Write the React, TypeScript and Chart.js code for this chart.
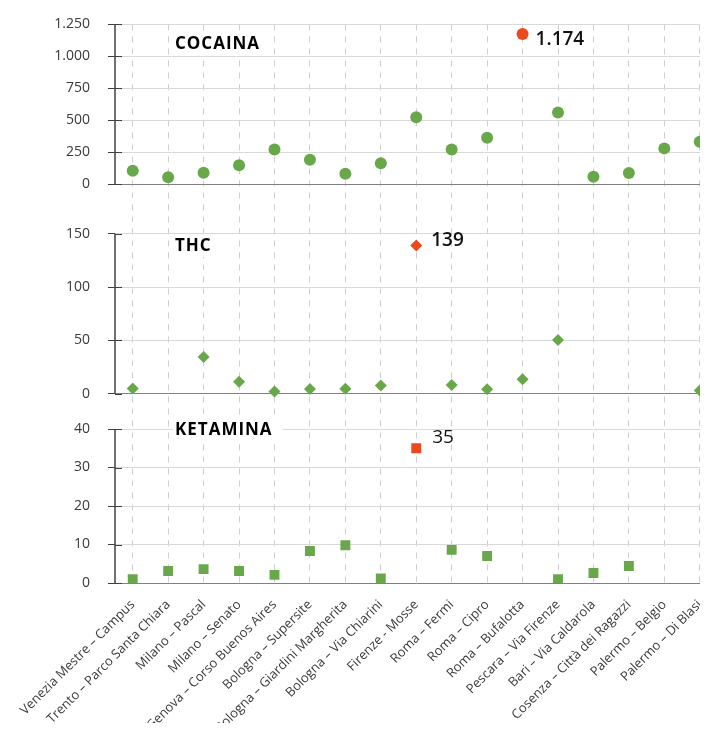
import React, { useEffect, useRef } from 'react';
import { Chart, registerables } from 'chart.js';

Chart.register(...registerables);

const categories = [
  'Venezia Mestre – Campus',
  'Trento – Parco Santa Chiara',
  'Milano – Pascal',
  'Milano – Senato',
  'Genova – Corso Buenos Aires',
  'Bologna – Supersite',
  'Bologna – Giardini Margherita',
  'Bologna – Via Chiarini',
  'Firenze - Mosse',
  'Roma – Fermi',
  'Roma – Cipro',
  'Roma – Bufalotta',
  'Pescara – Via Firenze',
  'Bari – Via Caldarola',
  'Cosenza – Città dei Ragazzi',
  'Palermo – Belgio',
  'Palermo – Di Blasi',
];

const cocaina = [104, 52, 88, 146, 271, 190, 80, 162, 523, 271, 362, 1174, 560, 57, 86, 279, 331];
const thc = [5, null, 34.4, 11.3, 2.2, 4.4, 4.7, 7.8, 139, 8.1, 4.1, 13.5, 50.3, null, null, null, 3.1];
const ketamina = [1.0, 3.1, 3.6, 3.1, 2.1, 8.3, 9.8, 1.2, 35, 8.6, 7.0, null, 1.0, 2.6, 4.4, null, null];

const cocainaTicks = [0, 250, 500, 750, 1000, 1250];
const thcTicks = [0, 50, 100, 150];
const ketaminaTicks = [0, 10, 20, 30, 40];

const panelTitles = ['COCAINA', 'THC', 'KETAMINA'];
const cocainaPeak = 11;
const thcPeak = 8;
const ketaminaPeak = 8;

const GREEN = '#68A84A';
const RED = '#EC4A1C';
const FONT = '"Open Sans", "Noto Sans", sans-serif';

function fmt(v: number): string {
  const n = Math.round(v);
  if (Math.abs(n) >= 1000) {
    return Math.floor(n / 1000) + '.' + String(n % 1000).padStart(3, '0');
  }
  return String(n);
}

function colors(values: (number | null)[], peak: number) {
  return values.map((_, i) => (i === peak ? RED : GREEN));
}

function yAxis(ticks: number[], min: number, max: number, weight: number) {
  return {
    type: 'linear',
    position: 'left',
    stack: 'panels',
    stackWeight: weight,
    min,
    max,
    afterBuildTicks: (s: any) => {
      s.ticks = ticks.map((v) => ({ value: v }));
    },
    afterFit: (s: any) => {
      s.width = 115;
    },
    grid: {
      color: (c: any) => (c.tick && c.tick.value === 0 ? '#808080' : '#d9d9d9'),
      lineWidth: 1,
      tickColor: '#404040',
      tickLength: 7,
    },
    border: { display: false },
    ticks: {
      font: { family: FONT, size: 14 },
      color: '#3a3a3a',
      padding: 18,
      callback: (v: any) => fmt(Number(v)),
    },
  };
}

const decorPlugin = {
  id: 'decor',
  afterDraw(chart: any) {
    const ctx = chart.ctx;
    const axes: [string, number[]][] = [
      ['yCoc', cocainaTicks],
      ['yThc', thcTicks],
      ['yKet', ketaminaTicks],
    ];
    ctx.save();
    for (const [id, ticks] of axes) {
      const s = chart.scales[id];
      const x = s.right;
      const top = s.getPixelForValue(ticks[ticks.length - 1]);
      const bot = s.getPixelForValue(0);
      ctx.strokeStyle = '#404040';
      ctx.lineWidth = 1.5;
      ctx.beginPath();
      ctx.moveTo(x, top);
      ctx.lineTo(x, bot);
      ctx.stroke();
      ctx.lineWidth = 1;
      ctx.beginPath();
      for (const t of ticks) {
        const y = Math.round(s.getPixelForValue(t)) + 0.5;
        ctx.moveTo(x, y);
        ctx.lineTo(x + 7, y);
      }
      ctx.stroke();
    }

    // panel titles
    const left = chart.chartArea.left + 60;
    const titleY = [
      chart.scales.yCoc.getPixelForValue(1250) + 20,
      chart.scales.yThc.getPixelForValue(150) + 12,
      chart.scales.yKet.getPixelForValue(40) + 1,
    ];
    ctx.font = `700 17px ${FONT}`;
    (ctx as any).letterSpacing = '1px';
    ctx.textBaseline = 'middle';
    ctx.textAlign = 'left';
    panelTitles.forEach((t, i) => {
      const w = ctx.measureText(t).width;
      ctx.fillStyle = '#ffffff';
      ctx.fillRect(left - 2, titleY[i] - 11, w + 12, 22);
      ctx.fillStyle = '#000000';
      ctx.fillText(t, left, titleY[i]);
    });
    (ctx as any).letterSpacing = '0px';

    // peak labels
    const peaks: [number, number, string, string, number, number][] = [
      [0, cocainaPeak, fmt(cocaina[cocainaPeak] as number), '600', 13, 5],
      [1, thcPeak, fmt(thc[thcPeak] as number), '600', 15, -5],
      [2, ketaminaPeak, fmt(ketamina[ketaminaPeak] as number), '400', 16, -11],
    ];
    for (const [ds, idx, text, weight, dx, dy] of peaks) {
      const el = chart.getDatasetMeta(ds).data[idx];
      ctx.font = `${weight} 19px ${FONT}`;
      ctx.fillStyle = '#111111';
      ctx.textAlign = 'left';
      ctx.textBaseline = 'middle';
      ctx.fillText(text, el.x + dx, el.y + dy);
    }
    ctx.restore();
  },
};

export default function App() {
  const ref = useRef<HTMLCanvasElement | null>(null);

  useEffect(() => {
    document.body.style.overflow = 'hidden';
    const canvas = ref.current;
    if (!canvas) return;
    const chart = new Chart(canvas, {
      type: 'line',
      data: {
        labels: categories,
        datasets: [
          {
            label: 'Cocaina',
            data: cocaina,
            yAxisID: 'yCoc',
            showLine: false,
            pointStyle: 'circle',
            pointRadius: 6,
            pointBackgroundColor: colors(cocaina, cocainaPeak),
            pointBorderColor: colors(cocaina, cocainaPeak),
            pointBorderWidth: 0,
          },
          {
            label: 'THC',
            data: thc,
            yAxisID: 'yThc',
            showLine: false,
            pointStyle: 'rectRot',
            pointRadius: 6,
            pointBackgroundColor: colors(thc, thcPeak),
            pointBorderColor: colors(thc, thcPeak),
            pointBorderWidth: 0,
          },
          {
            label: 'Ketamina',
            data: ketamina,
            yAxisID: 'yKet',
            showLine: false,
            pointStyle: 'rect',
            pointRadius: 7,
            pointBackgroundColor: colors(ketamina, ketaminaPeak),
            pointBorderColor: colors(ketamina, ketaminaPeak),
            pointBorderWidth: 0,
          },
        ] as any,
      },
      options: {
        animation: false,
        responsive: false,
        devicePixelRatio: 1,
        events: [],
        layout: { padding: { top: 23, right: 3, left: 0, bottom: 0 } },
        plugins: {
          legend: { display: false },
          tooltip: { enabled: false },
          title: { display: false },
        },
        scales: {
          x: {
            type: 'category',
            offset: true,
            grid: { offset: false, color: '#cfcfcf', lineWidth: 1, drawTicks: false },
            border: { display: false, dash: [6, 6] },
            ticks: {
              autoSkip: false,
              maxRotation: 45,
              minRotation: 45,
              font: { family: FONT, size: 13 },
              color: '#3a3a3a',
              padding: 14,
              labelOffset: 0,
            },
            afterFit: (s: any) => {
              s.height = 148;
            },
          },
          yKet: yAxis(ketaminaTicks, 0, 44.68, 172),
          yThc: yAxis(thcTicks, -16.2, 173.2, 202),
          yCoc: yAxis(cocainaTicks, -195.8, 1250, 184.6),
        } as any,
      },
      plugins: [decorPlugin],
    });
    return () => chart.destroy();
  }, []);

  return (
    <div style={{ margin: -8, width: 708, height: 731, overflow: 'hidden' }}>
      <canvas
        ref={ref}
        width={725}
        height={733}
        style={{ display: 'block', width: 725, height: 733, marginTop: -2 }}
      />
    </div>
  );
}
